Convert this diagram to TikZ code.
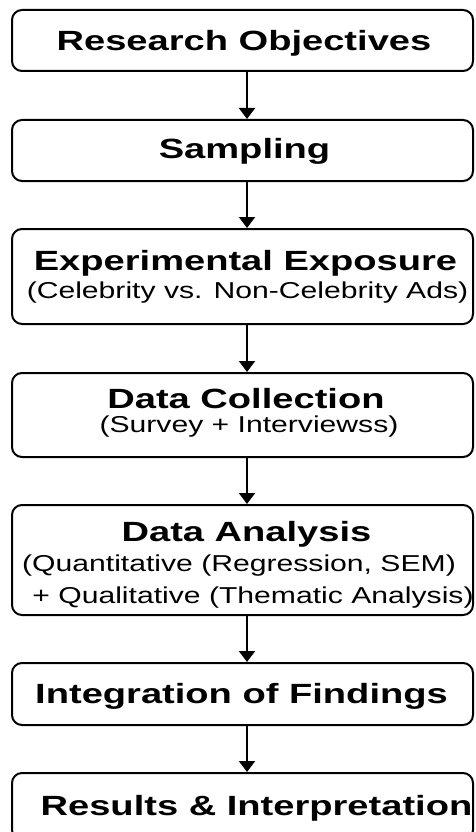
\documentclass[tikz,border=0pt]{standalone}
\usepackage{fontspec}
\setmainfont{Liberation Sans}
\newfontfamily\headfont{Liberation Sans}[FakeStretch=1.37]
\newfontfamily\notefont{Liberation Sans}[FakeStretch=1.31]
\usetikzlibrary{arrows.meta}
\tikzset{
  stagebox/.style={draw=black, line width=2pt, rounded corners=10pt, fill=white,
                   minimum width=461pt, inner sep=0pt},
  head/.style={anchor=base, inner sep=0pt, font=\headfont\bfseries\fontsize{27.8}{30}\selectfont},
  note/.style={anchor=base, inner sep=0pt, font=\notefont\fontsize{23}{25}\selectfont},
  flow/.style={-{Triangle[width=16pt,length=11pt]}, line width=2pt},
}
\begin{document}
\begin{tikzpicture}[x=1pt,y=-1pt]
  \useasboundingbox (0,0) rectangle (475,832);
  \clip (0,0) rectangle (475,832);
  \fill[white] (0,0) rectangle (475,832);
  \coordinate (spine) at (247,0);

  % stage boxes
  \node[stagebox, minimum height=61pt]  (b1) at (242.5,40.5) {};
  \node[stagebox, minimum height=61pt]  (b2) at (242.5,150.5) {};
  \node[stagebox, minimum height=95pt]  (b3) at (242.5,276.5) {};
  \node[stagebox, minimum height=84pt]  (b4) at (242.5,415) {};
  \node[stagebox, minimum height=110pt] (b5) at (242.5,560) {};
  \node[stagebox, minimum height=62pt]  (b6) at (242.5,694) {};
  \node[stagebox, minimum height=67pt]  (b7) at (242.5,806.5) {};

  % labels
  \node[head] (t1) at (244,51) {Research Objectives};
  \node[head] (t2) at (244.5,158) {Sampling};
  \node[head] (t3) at (245.5,270) {Experimental Exposure};
  \node[note] (s3) at (247.5,298) {(Celebrity vs. Non-Celebrity Ads)};
  \node[head] (t4) at (246,408) {Data Collection};
  \node[note] (s4) at (249,432) {(Survey + Interviewss)};
  \node[head] (t5) at (246.5,541) {Data Analysis};
  \node[note] (s5a) at (239,571) {(Quantitative (Regression, SEM)};
  \node[note] (s5b) at (253,603) {+ Qualitative (Thematic Analysis)};
  \node[head] (t6) at (241.5,703) {Integration of Findings};
  \node[head] (t7) at (256.5,815) {Results \& Interpretation};

  % connectors
  \draw[flow] (b1.south -| spine) -- (b2.north -| spine);
  \draw[flow] (b2.south -| spine) -- (b3.north -| spine);
  \draw[flow] (b3.south -| spine) -- (b4.north -| spine);
  \draw[flow] (b4.south -| spine) -- (b5.north -| spine);
  \draw[flow] (b5.south -| spine) -- (b6.north -| spine);
  \draw[flow] (b6.south -| spine) -- (b7.north -| spine);
\end{tikzpicture}
\end{document}
